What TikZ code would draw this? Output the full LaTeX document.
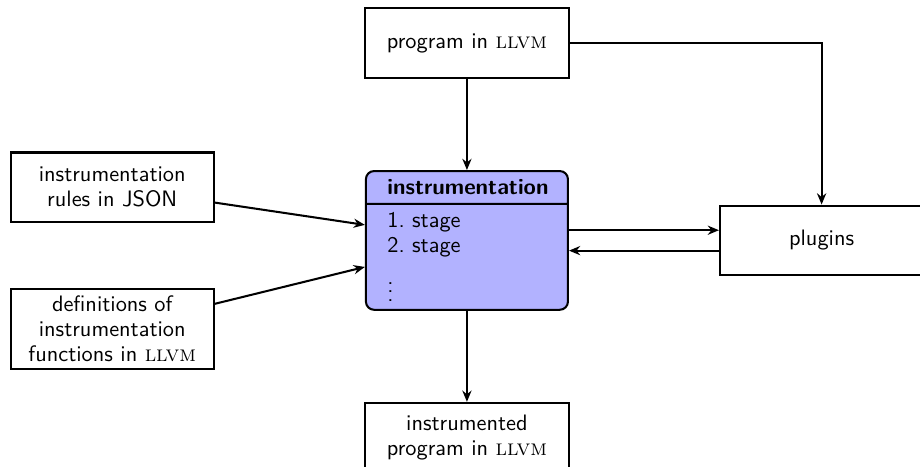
\documentclass[tikz,border=0pt]{standalone}
\usepackage{amsmath}
\usepackage{tikz}
\usetikzlibrary{positioning,shapes.multipart,arrows.meta}
\renewcommand{\familydefault}{\sfdefault}
\newcommand{\llvm}{\textrm{\textsc{llvm}}}

\begin{document}
\begin{tikzpicture}[
    every node/.style={font=\fontsize{10.95}{12.2}\selectfont},
    box/.style={draw, line width=1pt, minimum width=3.5cm, minimum height=1.2cm, align=center},
    stagebox/.style={draw, line width=1pt, fill=blue!30, rounded corners, rectangle split,
      rectangle split parts=2, text width=78pt, inner xsep=10.5pt, inner ysep=3.8pt},
    link/.style={line width=1pt, -{Stealth[length=5.5pt,width=4.5pt]}}]
  \useasboundingbox (-228.8pt,-111pt) rectangle (222pt,117.8pt);
  % Nodes
  \node[stagebox] (instr) {\centering\textbf{instrumentation}\nodepart{two}\raggedright 1.~stage\\2.~stage\\[5.5pt]\vdots} ; %
  \node[box, above=44.6pt of instr] (prog) {program in \llvm} ; %
  \node[box, right=73.5pt of instr] (plugins) {plugins} ; %
  \node[box, below=44.6pt of instr] (out) {instrumented\\program in \llvm} ; %
  \node[box, left=73.5pt of instr, yshift=26pt] (rules) {instrumentation\\rules in JSON} ; %
  \node[box, left=73.5pt of instr, yshift=-43.4pt] (defs) {definitions of\\instrumentation\\functions in \llvm} ; %
  % Edges
  \draw[link] (prog) -- (instr) ; %
  \draw[link] (prog.east) -| (plugins.north) ; %
  \draw[link] (rules) -- ([yshift=7.6pt]instr.west) ; %
  \draw[link] (defs) -- ([yshift=-13pt]instr.west) ; %
  \draw[link] ([yshift=5pt]instr.east) -- ([yshift=5pt]plugins.west) ; %
  \draw[link] ([yshift=-5pt]plugins.west) -- ([yshift=-5pt]instr.east) ; %
  \draw[link] (instr) -- (out) ; %
\end{tikzpicture}
\end{document}
